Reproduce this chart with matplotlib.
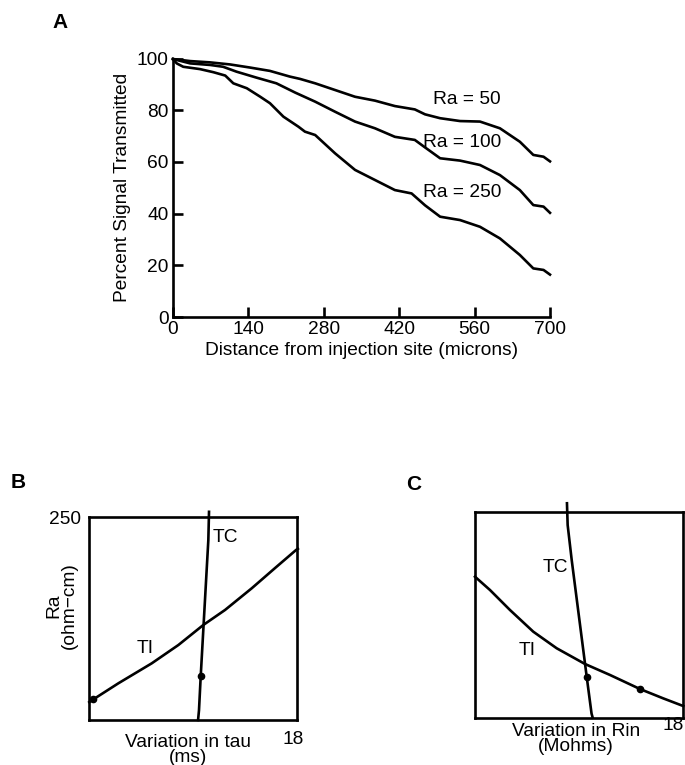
import matplotlib
matplotlib.use("Agg")
import matplotlib.pyplot as plt

plt.rcParams['font.family'] = ['Liberation Sans', 'DejaVu Sans']

# ---------------- Panel A data ----------------
dist_50 = [0, 32, 69, 106, 143, 180, 217, 236, 264, 301, 338, 375, 412, 449, 468,
           496, 533, 570, 607, 644, 669, 688, 700]
sig_50 = [99.8, 99.0, 98.5, 97.7, 96.5, 95.2, 93.0, 92.1, 90.4, 87.8, 85.2, 83.7, 81.6, 80.3, 78.4,
          76.9, 75.8, 75.6, 73.0, 67.8, 62.7, 62.0, 60.2]

dist_100 = [0, 32, 69, 93, 118, 155, 192, 227, 264, 301, 338, 375, 412, 449, 468,
            496, 533, 570, 607, 644, 669, 688, 700]
sig_100 = [99.8, 98.1, 97.5, 96.8, 94.9, 92.6, 90.4, 86.8, 83.3, 79.4, 75.6, 73.0, 69.7, 68.5, 65.6,
           61.4, 60.5, 58.8, 54.9, 49.1, 43.3, 42.7, 40.3]

dist_250 = [0, 7, 19, 50, 75, 97, 112, 137, 162, 180, 205, 233, 245, 264, 301, 338, 375, 412, 443, 468,
            496, 533, 570, 607, 644, 669, 688, 700]
sig_250 = [99.8, 98.1, 96.8, 95.9, 94.7, 93.4, 90.4, 88.5, 85.2, 82.7, 77.5, 73.6, 71.7, 70.4, 63.3, 56.9,
           53.0, 49.1, 47.8, 43.2, 38.8, 37.5, 34.9, 30.4, 24.0, 18.8, 18.2, 16.4]

a_xticks = [0, 140, 280, 420, 560, 700]
a_yticks = [0, 20, 40, 60, 80, 100]
curve_labels = ["Ra = 50", "Ra = 100", "Ra = 250"]
label_pos_x = [546, 537, 537]
label_pos_y = [84, 67.5, 48]

# ---------------- Panel B data ----------------
b_tc_x = [9.44, 9.52, 9.67, 10.33, 10.39]
b_tc_y = [0, 12, 54, 221, 256]
b_ti_x = [0.0, 0.35, 2.52, 5.42, 7.73, 9.9, 11.78, 14.1, 16.1, 17.94, 18.1]
b_ti_y = [22.0, 25.4, 45.1, 69.7, 92.2, 116.9, 135.3, 162, 186.6, 209, 210.5]
b_dots_x = [0.35, 9.67]
b_dots_y = [25.4, 54]

# ---------------- Panel C data ----------------
c_tc_x = [7.97, 8.03, 8.38, 9.68, 10.1, 10.2]
c_tc_y = [261, 234.5, 192, 49.9, 5, 0]
c_ti_x = [0.0, 1.3, 3.03, 5.05, 7.08, 9.53, 11.7, 14.3, 16.3, 18.05]
c_ti_y = [171.6, 155.4, 131.1, 104.7, 84.5, 65.4, 52, 34.9, 23.6, 14.2]
c_dots_x = [9.68, 14.3]
c_dots_y = [49.9, 34.9]

W, H = 685, 765
fig = plt.figure(figsize=(W / 100, H / 100), dpi=100)

LW = 1.9
FS = 13.8
FL = 15

# ---------------- Panel A ----------------
axA = fig.add_axes([173 / W, 1 - 317 / H, 377 / W, 258.5 / H])
for xs, ys in [(dist_50, sig_50), (dist_100, sig_100), (dist_250, sig_250)]:
    axA.plot(xs, ys, color='black', lw=LW, clip_on=False, solid_joinstyle='round')
axA.set_xlim(0, 700)
axA.set_ylim(0, 100)
axA.set_xticks(a_xticks)
axA.set_yticks(a_yticks)
axA.spines['top'].set_visible(False)
axA.spines['right'].set_visible(False)
for s in ['left', 'bottom']:
    axA.spines[s].set_linewidth(1.9)
axA.tick_params(direction='in', length=7, width=1.9, labelsize=FS, pad=3)
axA.set_xlabel("Distance from injection site (microns)", fontsize=FS, labelpad=3)
axA.set_ylabel("Percent Signal Transmitted", fontsize=FS, labelpad=4)
for lab, lx, ly in zip(curve_labels, label_pos_x, label_pos_y):
    axA.text(lx, ly, lab, fontsize=FS, ha='center', va='center')
fig.text(60 / W, 1 - 23 / H, "A", fontsize=FL, fontweight='bold', ha='center', va='center')

# ---------------- Panel B ----------------
axB = fig.add_axes([89.3 / W, 1 - 720 / H, 207.4 / W, 203.3 / H])
axB.plot(b_tc_x, b_tc_y, color='black', lw=LW, clip_on=False, solid_joinstyle='round')
axB.plot(b_ti_x, b_ti_y, color='black', lw=LW, clip_on=False, solid_joinstyle='round')
axB.plot(b_dots_x, b_dots_y, 'o', color='black', ms=4.5, clip_on=False)
axB.set_xlim(0, 18)
axB.set_ylim(0, 250)
axB.set_xticks([])
axB.set_yticks([])
for s in axB.spines.values():
    s.set_linewidth(1.9)
axB.text(11.8, 225, "TC", fontsize=FS, ha='center', va='center')
axB.text(4.83, 88, "TI", fontsize=FS, ha='center', va='center')
fig.text(65 / W, 1 - 520 / H, "250", fontsize=FS, ha='center', va='center')
fig.text(293 / W, 1 - 740 / H, "18", fontsize=FS, ha='center', va='center')
fig.text(188 / W, 1 - 750 / H, "Variation in tau\n(ms)", fontsize=FS, ha='center', va='center',
         linespacing=0.9)
fig.text(62 / W, 1 - 606 / H, "Ra\n(ohm\u2212cm)", fontsize=FS, ha='center', va='center',
         rotation=90, linespacing=0.9)
fig.text(18 / W, 1 - 483 / H, "B", fontsize=FL, fontweight='bold', ha='center', va='center')

# ---------------- Panel C ----------------
axC = fig.add_axes([475 / W, 1 - 717.7 / H, 207.7 / W, 205.4 / H])
axC.plot(c_tc_x, c_tc_y, color='black', lw=LW, clip_on=False, solid_joinstyle='round')
axC.plot(c_ti_x, c_ti_y, color='black', lw=LW, clip_on=False, solid_joinstyle='round')
axC.plot(c_dots_x, c_dots_y, 'o', color='black', ms=4.5, clip_on=False)
axC.set_xlim(0, 18)
axC.set_ylim(0, 250)
axC.set_xticks([])
axC.set_yticks([])
for s in axC.spines.values():
    s.set_linewidth(1.9)
axC.text(6.93, 183, "TC", fontsize=FS, ha='center', va='center')
axC.text(4.48, 81.6, "TI", fontsize=FS, ha='center', va='center')
fig.text(673 / W, 1 - 726 / H, "18", fontsize=FS, ha='center', va='center')
fig.text(576 / W, 1 - 739 / H, "Variation in Rin\n(Mohms)", fontsize=FS, ha='center', va='center',
         linespacing=0.9)
fig.text(414 / W, 1 - 485 / H, "C", fontsize=FL, fontweight='bold', ha='center', va='center')

fig.savefig("out.png", dpi=100)
